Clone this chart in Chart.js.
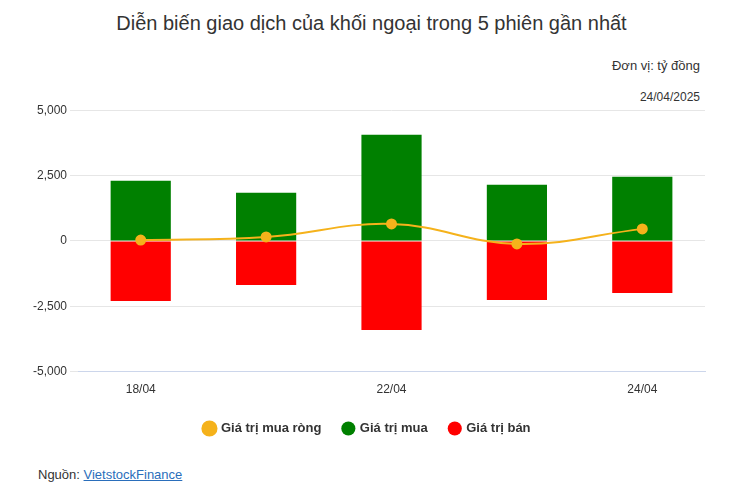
<!DOCTYPE html>
<html><head><meta charset="utf-8">
<script src="https://cdn.jsdelivr.net/npm/chart.js@4"></script>
<style>
body{margin:0;width:743px;height:500px;background:#fff;font-family:"Liberation Sans",Arial,sans-serif;position:relative;overflow:hidden}
#t{position:absolute;top:12px;left:0;width:743px;text-align:center;font-size:20px;color:#333}
#u{position:absolute;top:58px;right:43px;font-size:13px;color:#333}
#d{position:absolute;top:90px;right:43px;font-size:12px;color:#333}
#f{position:absolute;top:467px;left:38px;font-size:13px;color:#333}
#f a{color:#2a6ebb;text-decoration:underline}
#c{position:absolute;top:100px;left:0;width:743px;height:345px}
</style></head><body>
<div id="t">Diễn biến giao dịch của khối ngoại trong 5 phiên gần nhất</div>
<div id="u">Đơn vị: tỷ đồng</div>
<div id="d">24/04/2025</div>
<div id="c"><canvas id="cv"></canvas></div>
<div id="f">Nguồn: <a>VietstockFinance</a></div>
<script>
const categories=["18/04","21/04","22/04","23/04","24/04"];
const buyValues=[2300,1840,4060,2145,2450];
const sellValues=[-2300,-1690,-3410,-2260,-1990];
const netValues=[30,150,650,-115,460];
const shownLabels=["18/04","22/04","24/04"];
new Chart(document.getElementById('cv'),{
data:{labels:categories,datasets:[
{type:'bar',label:'Giá trị mua',data:buyValues,backgroundColor:'#008000',stack:'s',barPercentage:0.48,categoryPercentage:1,order:2},
{type:'bar',label:'Giá trị bán',data:sellValues,backgroundColor:'#ff0000',stack:'s',barPercentage:0.48,categoryPercentage:1,order:2},
{type:'line',label:'Giá trị mua ròng',data:netValues,borderColor:'#f5b21b',backgroundColor:'#f5b21b',borderWidth:2,tension:0.4,pointRadius:4.5,stack:'n',order:1}
]},
options:{responsive:true,maintainAspectRatio:false,animation:false,
layout:{padding:{left:30,right:38,top:9}},
plugins:{legend:{position:'bottom',labels:{usePointStyle:true,pointStyle:'circle',boxWidth:10,boxHeight:10,padding:22,color:'#333',font:{size:13,weight:'bold',family:'Liberation Sans'}}},tooltip:{enabled:false}},
scales:{
x:{stacked:true,grid:{display:false},border:{color:'#ccd6eb'},ticks:{autoSkip:false,maxRotation:0,color:'#333',font:{size:12},callback:function(v){const l=categories[v];return shownLabels.includes(l)?l:'';}}},
y:{stacked:true,min:-5000,max:5000,border:{display:false},grid:{color:'#e6e6e6'},ticks:{stepSize:2500,color:'#333',font:{size:12},callback:v=>v.toLocaleString('en-US')}}
}}});
</script></body></html>
